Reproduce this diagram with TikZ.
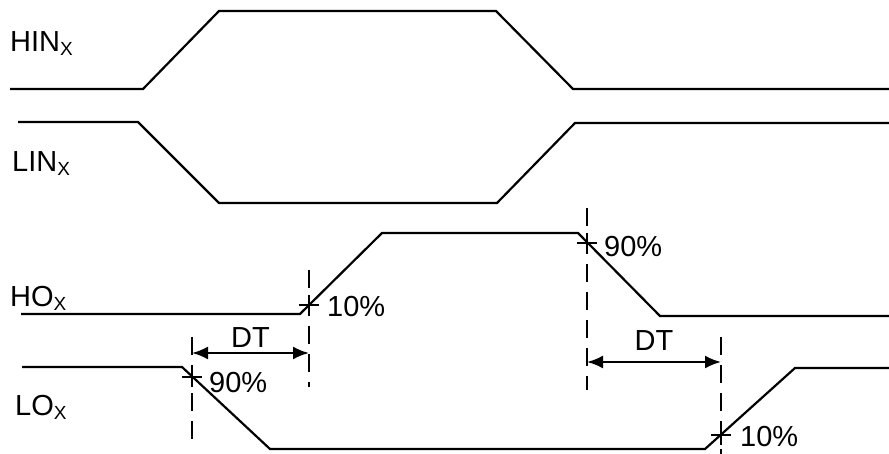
\documentclass[tikz,border=0pt]{standalone}
\usepackage{fontspec}
\setmainfont{Liberation Sans}
\usetikzlibrary{arrows.meta,calc}

\tikzset{
    wave/.style={line width=2.2pt, line join=miter},
    guide/.style={line width=2.2pt, dash pattern=on 18pt off 10pt},
    tick/.style={line width=2pt},
    lbl/.style={anchor=base west, inner sep=0pt, font=\fontsize{29}{30}\selectfont},
    dtarrow/.style={line width=2.2pt, {Latex[length=16pt,width=13pt]}-{Latex[length=16pt,width=13pt]}}
}
\newcommand{\subx}{\raisebox{-4pt}{\fontsize{19}{19}\selectfont X}}

\begin{document}
\begin{tikzpicture}[x=1pt, y=-1pt]
\useasboundingbox (0,0) rectangle (889,454);

% Signal names
\node[lbl] (hin) at (10,52) {HIN\subx};
\node[lbl] (lin) at (12,172) {LIN\subx};
\node[lbl] (ho) at (10,307) {HO\subx};
\node[lbl] (lo) at (15,415) {LO\subx};

% Waveforms
\draw[wave] (10,89) -- (143,89) -- (219,11) -- (496,11) -- (573,89) -- (889,89);
\draw[wave] (18,122) -- (138,122) -- (219,203) -- (497,203) -- (575,123) -- (889,123);
\draw[wave] (21,314) -- (300,314) -- (382,233) -- (578,233) -- (660,316) -- (889,316);
\draw[wave] (22,367) -- (182,367) -- (270,449) -- (705,449) -- (795,368) -- (889,368);

% Switching points
\coordinate (ho10) at (309,305);
\coordinate (ho90) at (587,243);
\coordinate (lo90) at (192,377);
\coordinate (lo10) at (721,435);

% Guide lines
\draw[guide] ($(ho10)+(0,-35)$) -- ($(ho10)+(0,82)$);
\draw[guide] ($(lo90)+(0,-40)$) -- ($(lo90)+(0,63)$);
\draw[guide] ($(ho90)+(0,-35)$) -- ($(ho90)+(0,147)$);
\draw[guide] ($(lo10)+(0,-98)$) -- ($(lo10)+(0,19)$);

% Crosses
\foreach \p in {ho10,ho90,lo90,lo10} {
    \draw[tick] ($(\p)+(-10,0)$) -- ($(\p)+(10,0)$);
    \draw[tick] ($(\p)+(0,-10)$) -- ($(\p)+(0,10)$);
}

% Levels
\node[lbl] (p10a) at (327,317) {10\%};
\node[lbl] (p90a) at (604,257) {90\%};
\node[lbl] (p90b) at (209,392) {90\%};
\node[lbl] (p10b) at (740,446) {10\%};

% Dead time
\coordinate (dtl) at ($(lo90)+(0,-24)$);
\coordinate (dtr) at ($(ho90)+(0,119)$);
\draw[dtarrow] (dtl) -- node[lbl, anchor=base, yshift=5pt] (dta) {DT} (dtl -| ho10);
\draw[dtarrow] (dtr) -- node[lbl, anchor=base, yshift=11pt] (dtb) {DT} (dtr -| lo10);

\end{tikzpicture}
\end{document}
